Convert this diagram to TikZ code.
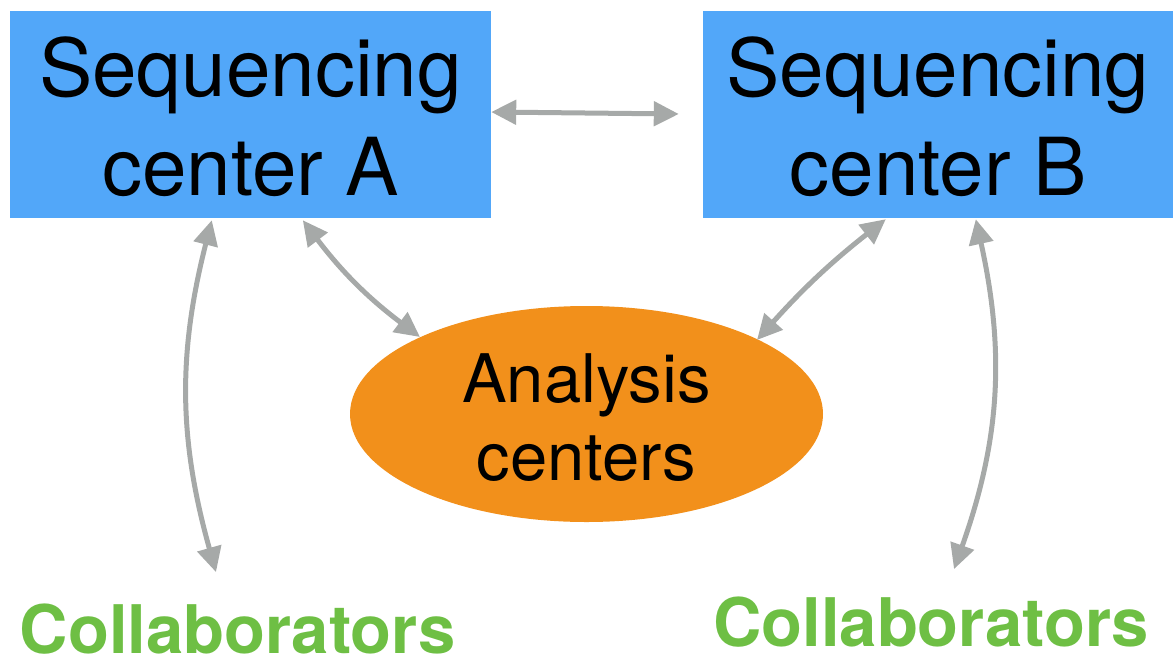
\documentclass[tikz,border=0pt]{standalone}
\usepackage{fontspec}
\setmainfont{TeX Gyre Heros}
\usetikzlibrary{arrows.meta,calc,shapes.geometric}

\definecolor{seqblue}{HTML}{52A7F9}
\definecolor{anaorange}{HTML}{F2901B}
\definecolor{colgreen}{HTML}{6EBF44}
\definecolor{arrowgray}{HTML}{A6A9A8}

\tikzset{
  seqbox/.style={rectangle, fill=seqblue, draw=none, inner sep=0pt,
    minimum width=#1, minimum height=207pt},
  seqtext/.style={align=center, text=black, inner sep=0pt,
    font=\fontsize{80}{99}\selectfont},
  anabox/.style={ellipse, fill=anaorange, draw=none, inner sep=0pt,
    minimum width=473pt, minimum height=216pt},
  anatext/.style={align=center, text=black, inner sep=0pt,
    font=\fontsize{67}{78}\selectfont},
  coltext/.style={text=colgreen, inner sep=0pt, anchor=base,
    font=\fontsize{67}{80}\selectfont\bfseries},
  conn/.style={draw=arrowgray, line width=5pt,
    {Triangle[length=25pt,width=24pt]}-{Triangle[length=25pt,width=24pt]}}
}

\begin{document}
\begin{tikzpicture}[x=1pt, y=-1pt]
  \useasboundingbox (0,0) rectangle (1173,656);

  % sequencing centers
  \node[seqbox=481pt, label={[seqtext, yshift=-2.5pt]center:Sequencing\\center A}]
    (A) at (250.5,114.5) {};
  \node[seqbox=470pt, label={[seqtext, yshift=-2.5pt]center:Sequencing\\center B}]
    (B) at (938,114.5) {};

  % analysis centers
  \node[anabox, label={[anatext, yshift=-3.5pt]center:Analysis\\centers}]
    (E) at (586.5,414) {};

  % collaborators
  \node[coltext] (CA) at (237.5,653) {Collaborators};
  \node[coltext] (CB) at (931,646) {Collaborators};

  % exchanges
  \draw[conn] ($(A.east)+(0,-2.5)$) -- ($(B.west)+(-24,-0.5)$);
  \draw[conn] ($(A.south west)+(202,2)$) to[bend right=15] ($(CA.north)+(-21.5,-31)$);
  \draw[conn] ($(A.south west)+(293,2)$) to[bend right=8] ($(E.center)+(-166.5,-77)$);
  \draw[conn] ($(B.south west)+(183,1)$) to[bend right=5] ($(E.center)+(170.5,-74)$);
  \draw[conn] ($(B.south west)+(273,1)$) to[bend left=16] ($(CB.north)+(23,-27)$);
\end{tikzpicture}
\end{document}
